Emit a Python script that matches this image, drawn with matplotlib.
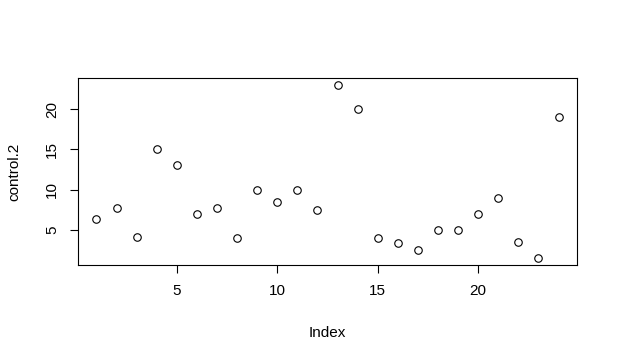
import matplotlib
matplotlib.use("Agg")
import matplotlib.pyplot as plt

index = list(range(1, 25))
control_2 = [6.3, 7.7, 4.1, 15, 13, 7, 7.7, 4, 10, 8.5, 10, 7.5,
             23, 20, 4, 3.4, 2.5, 5, 5, 7, 8.9, 3.5, 1.5, 19]
xticks = [5, 10, 15, 20]
yticks = [5, 10, 15, 20]

plt.rcParams['font.family'] = ['Liberation Sans', 'DejaVu Sans']
fig = plt.figure(figsize=(6.18, 3.63), dpi=100)
ax = fig.add_axes([78/618, (363-265)/363, (577-78)/618, (265-78)/363])
ax.plot(index, control_2, linestyle='none', marker='o', markersize=5.4,
        markerfacecolor='none', markeredgecolor='black', markeredgewidth=0.8)
xmin, xmax = min(index), max(index)
ymin, ymax = min(control_2), max(control_2)
px = 0.04 * (xmax - xmin)
py = 0.04 * (ymax - ymin)
ax.set_xlim(xmin - px, xmax + px)
ax.set_ylim(ymin - py, ymax + py)
ax.set_xticks(xticks)
ax.set_yticks(yticks)
ax.set_yticklabels([str(t) for t in yticks], rotation=90, va='center')
ax.tick_params(direction='out', length=5.5, width=0.8, labelsize=11, pad=8)
for s in ax.spines.values():
    s.set_linewidth(0.8)
ax.set_xlabel('Index', fontsize=11, labelpad=20)
ax.set_ylabel('control.2', fontsize=11, labelpad=17)
fig.savefig('out.png', dpi=100)
